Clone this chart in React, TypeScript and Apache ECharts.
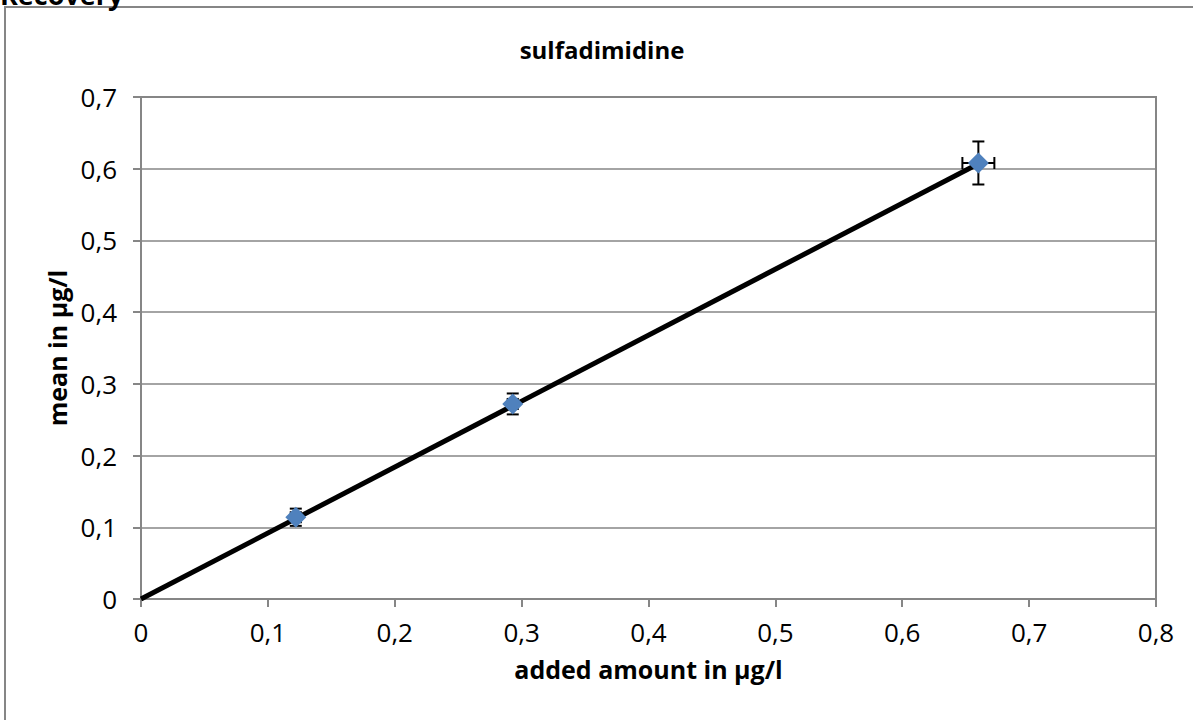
import React, { useEffect, useRef } from "react";
import * as echarts from "echarts";

const chartTitle = "sulfadimidine";
const sheetTitle = "Recovery";
const xAxisName = "added amount in µg/l";
const yAxisName = "mean in µg/l";

const addedAmount = [0.122, 0.293, 0.66];
const meanValue = [0.114, 0.272, 0.608];
const xError = [0.004, 0.004, 0.0126];
const yError = [0.012, 0.0146, 0.03];

const trendX = [0, 0.66];
const trendY = [0, 0.607];

const FONT = "'Open Sans', 'DejaVu Sans', sans-serif";
const GRAY = "#868686";

const fmt = (v: number) => String(+Number(v).toFixed(1)).replace(".", ",");

export default function App() {
  const ref = useRef<HTMLDivElement>(null);
  useEffect(() => {
    if (!ref.current) return;
    const chart = echarts.init(ref.current, undefined, { renderer: "svg" });
    const points = addedAmount.map((x, i) => [x, meanValue[i]]);
    const errData = addedAmount.map((x, i) => [x, meanValue[i], xError[i], yError[i]]);
    const trend = trendX.map((x, i) => [x, trendY[i]]);
    chart.setOption({
      animation: false,
      backgroundColor: "#ffffff",
      textStyle: { fontFamily: FONT },
      graphic: [
        {
          type: "rect",
          z: -1,
          shape: { x: 5, y: 7, width: 1400, height: 900 },
          style: { fill: "none", stroke: GRAY, lineWidth: 2 },
        },
        {
          type: "text",
          x: 0,
          y: 8,
          style: {
            text: sheetTitle,
            font: `bold 27px ${FONT}`,
            fill: "#000",
            textAlign: "left",
            textVerticalAlign: "bottom",
          },
        },
        {
          type: "text",
          x: 602,
          y: 49,
          style: {
            text: chartTitle,
            font: `bold 24px ${FONT}`,
            fill: "#000",
            textAlign: "center",
            textVerticalAlign: "middle",
          },
        },
      ],
      grid: {
        left: 141,
        right: 37,
        top: 97,
        bottom: 121,
        show: true,
        borderColor: GRAY,
        borderWidth: 2,
      },
      xAxis: {
        type: "value",
        min: 0,
        max: 0.8,
        interval: 0.1,
        name: xAxisName,
        nameLocation: "middle",
        nameGap: 57,
        nameTextStyle: { fontFamily: FONT, fontWeight: "bold", fontSize: 25, color: "#000" },
        axisLine: { show: true, lineStyle: { color: GRAY, width: 2 } },
        axisTick: { show: true, length: 8, lineStyle: { color: GRAY, width: 2 } },
        splitLine: { show: false },
        axisLabel: { formatter: fmt, fontSize: 26, color: "#000", margin: 20, fontFamily: FONT },
      },
      yAxis: {
        type: "value",
        min: 0,
        max: 0.7,
        interval: 0.1,
        name: yAxisName,
        nameLocation: "middle",
        nameGap: 72,
        nameTextStyle: { fontFamily: FONT, fontWeight: "bold", fontSize: 25, color: "#000" },
        axisLine: { show: true, lineStyle: { color: GRAY, width: 2 } },
        axisTick: { show: true, length: 8, lineStyle: { color: GRAY, width: 2 } },
        splitLine: { show: true, lineStyle: { color: GRAY, width: 1.5 } },
        axisLabel: { formatter: fmt, fontSize: 26, color: "#000", margin: 24, fontFamily: FONT },
      },
      series: [
        {
          type: "line",
          data: trend,
          symbol: "none",
          z: 2,
          lineStyle: { color: "#000", width: 5 },
          silent: true,
        },
        {
          type: "custom",
          z: 3,
          data: errData,
          encode: { x: 0, y: 1 },
          renderItem: (params: any, api: any) => {
            const x = api.value(0);
            const y = api.value(1);
            const ex = api.value(2);
            const ey = api.value(3);
            const top = api.coord([x, y + ey]);
            const bot = api.coord([x, y - ey]);
            const lft = api.coord([x - ex, y]);
            const rgt = api.coord([x + ex, y]);
            const c = 6;
            const style = { stroke: "#000", lineWidth: 2 };
            return {
              type: "group",
              children: [
                { type: "line", shape: { x1: top[0], y1: top[1], x2: bot[0], y2: bot[1] }, style },
                { type: "line", shape: { x1: top[0] - c, y1: top[1], x2: top[0] + c, y2: top[1] }, style },
                { type: "line", shape: { x1: bot[0] - c, y1: bot[1], x2: bot[0] + c, y2: bot[1] }, style },
                { type: "line", shape: { x1: lft[0], y1: lft[1], x2: rgt[0], y2: rgt[1] }, style },
                { type: "line", shape: { x1: lft[0], y1: lft[1] - c, x2: lft[0], y2: lft[1] + c }, style },
                { type: "line", shape: { x1: rgt[0], y1: rgt[1] - c, x2: rgt[0], y2: rgt[1] + c }, style },
              ],
            };
          },
        },
        {
          type: "scatter",
          z: 4,
          data: points,
          symbol: "diamond",
          symbolSize: 21,
          itemStyle: { color: "#4F81BD", opacity: 1 },
        },
      ],
    });
    return () => chart.dispose();
  }, []);
  return (
    <div
      ref={ref}
      style={{ position: "fixed", left: 0, top: 0, width: 1193, height: 720 }}
    />
  );
}
